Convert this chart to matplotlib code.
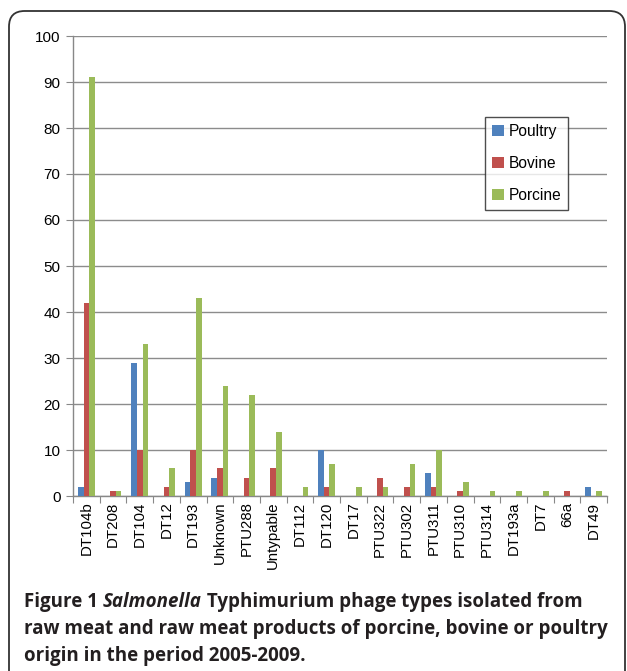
import matplotlib
matplotlib.use("Agg")
import matplotlib.pyplot as plt
import numpy as np
from matplotlib.patches import FancyBboxPatch

categories = ["DT104b", "DT208", "DT104", "DT12", "DT193", "Unknown", "PTU288",
              "Untypable", "DT112", "DT120", "DT17", "PTU322", "PTU302", "PTU311",
              "PTU310", "PTU314", "DT193a", "DT7", "66a", "DT49"]
poultry = [2, 0, 29, 0, 3, 4, 0, 0, 0, 10, 0, 0, 0, 5, 0, 0, 0, 0, 0, 2]
bovine = [42, 1, 10, 2, 10, 6, 4, 6, 0, 2, 0, 4, 2, 2, 1, 0, 0, 0, 1, 0]
porcine = [91, 1, 33, 6, 43, 24, 22, 14, 2, 7, 2, 2, 7, 10, 3, 1, 1, 1, 0, 1]
series_names = ["Poultry", "Bovine", "Porcine"]
colors = ["#4F81BD", "#C0504D", "#9BBB59"]
yticks = list(range(0, 101, 10))

W, H = 627, 671
fig = plt.figure(figsize=(W / 100, H / 100), dpi=100)
fig.patch.set_facecolor("white")

ax = fig.add_axes([73 / W, 1 - 496 / H, (607 - 73) / W, (496 - 36) / H])
x = np.arange(len(categories))
bw = 0.21
for i, (vals, name, c) in enumerate(zip([poultry, bovine, porcine], series_names, colors)):
    ax.bar(x + (i - 1) * bw, vals, width=bw, color=c, label=name, zorder=3)

ax.set_xlim(-0.5, len(categories) - 0.5)
ax.set_ylim(0, 100)
ax.set_yticks(yticks)
ax.set_yticklabels([str(t) for t in yticks], fontsize=11, family="Liberation Sans")
ax.set_xticks(np.arange(len(categories) + 1) - 0.5, minor=False)
ax.set_xticklabels([])
ax.set_xticks(x, minor=True)
ax.set_xticklabels(categories, minor=True, rotation=90, fontsize=10.8, family="Liberation Sans")
ax.tick_params(axis="x", which="minor", length=0, pad=4)
ax.tick_params(axis="x", which="major", length=5, color="#888888", direction="out")
ax.tick_params(axis="y", length=5, color="#888888", direction="out", pad=4)
ax.yaxis.grid(True, color="#8c8c8c", linewidth=1.0, zorder=0)
ax.set_axisbelow(True)
for s in ["top", "right"]:
    ax.spines[s].set_visible(False)
for s in ["left", "bottom"]:
    ax.spines[s].set_color("#888888")
    ax.spines[s].set_linewidth(1.0)

leg = ax.legend(loc="upper left", bbox_to_anchor=((485 - 73) / (607 - 73), 1 - (117 - 36) / (496 - 36)),
                frameon=True, fancybox=False, prop={"family": "Liberation Sans", "size": 11.2},
                handlelength=0.75, handleheight=0.75, handletextpad=0.3, labelspacing=1.1,
                borderpad=0.45, borderaxespad=0)
leg.get_frame().set_edgecolor("#222222")
leg.get_frame().set_linewidth(1.0)

# border box with rounded corners (extends off the bottom)
fig.patches.append(FancyBboxPatch((9 / W, -0.05), (625 - 9) / W, (H - 11) / H + 0.05,
                                  boxstyle="round,pad=0,rounding_size=0.025",
                                  transform=fig.transFigure, fill=False,
                                  edgecolor="#333333", linewidth=1.3, clip_on=False,
                                  mutation_aspect=W / H))

# caption
cap_color = "#231f20"
fam = "Open Sans"
fs = 13.5
fig.canvas.draw()
r = fig.canvas.get_renderer()

def put(parts, xpx, ypx):
    xp = xpx
    for txt, style in parts:
        t = fig.text(xp / W, 1 - ypx / H, txt, fontsize=fs, family=fam, weight="bold",
                     style=style, color=cap_color, va="baseline", ha="left")
        bb = t.get_window_extent(renderer=r)
        xp += bb.width

put([("Figure 1 ", "normal"), ("Salmonella", "italic"),
     (" Typhimurium phage types isolated from", "normal")], 24, 607)
put([("raw meat and raw meat products of porcine, bovine or poultry", "normal")], 24, 634)
put([("origin in the period 2005-2009.", "normal")], 24, 661)

fig.savefig("out.png", dpi=100)
